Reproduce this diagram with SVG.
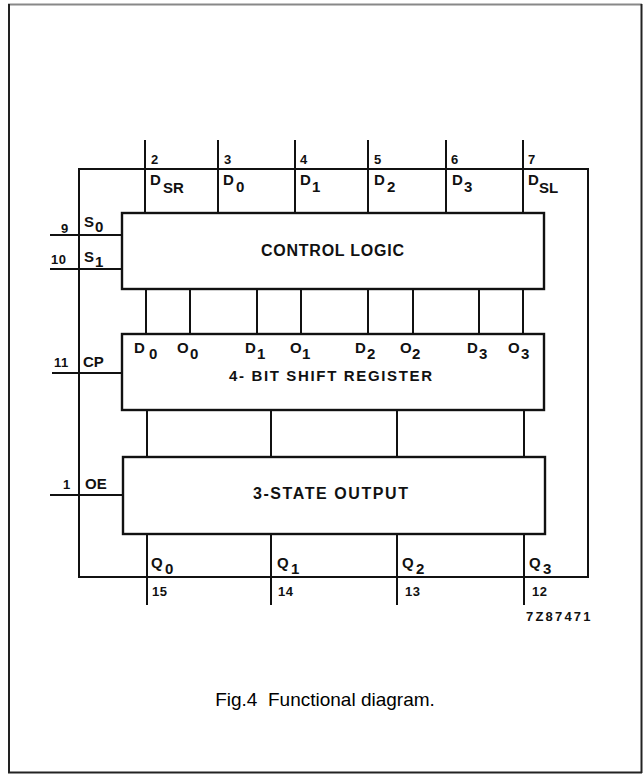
<svg xmlns="http://www.w3.org/2000/svg" width="643" height="774" viewBox="0 0 643 774">
<style>
.ln{stroke:#111;stroke-width:2;fill:none}
.bx{stroke:#111;stroke-width:2.4;fill:#fff}
.t{font-family:"Liberation Sans",Arial,sans-serif;font-weight:bold;fill:#111}
.pn{font-size:13px;letter-spacing:0.5px}
.lb{font-size:15px}
.big{font-size:16px}
.cap{font-family:"Liberation Sans",Arial,sans-serif;font-size:19px;fill:#000}
</style>
<rect width="643" height="774" fill="#fff"/>
<g id="frame" fill="none" stroke-width="2">
<line x1="8" y1="4.5" x2="642" y2="4.5" stroke="#888"/>
<line x1="9" y1="4" x2="9" y2="773" stroke="#222"/>
<line x1="641.5" y1="4" x2="641.5" y2="773" stroke="#222"/>
<line x1="8" y1="772.5" x2="642" y2="772.5" stroke="#222"/>
</g>
<g id="connectors">
<rect class="ln" x="79" y="169" width="509" height="408"/>
<line class="ln" x1="145" y1="140" x2="145" y2="213"/>
<line class="ln" x1="218" y1="140" x2="218" y2="213"/>
<line class="ln" x1="295" y1="140" x2="295" y2="213"/>
<line class="ln" x1="368" y1="140" x2="368" y2="213"/>
<line class="ln" x1="446" y1="140" x2="446" y2="213"/>
<line class="ln" x1="523" y1="140" x2="523" y2="213"/>
<line class="ln" x1="50" y1="235" x2="122" y2="235"/>
<line class="ln" x1="50" y1="269" x2="122" y2="269"/>
<line class="ln" x1="52" y1="373" x2="122" y2="373"/>
<line class="ln" x1="50" y1="495" x2="123" y2="495"/>
<line class="ln" x1="146" y1="289" x2="146" y2="334"/>
<line class="ln" x1="190" y1="289" x2="190" y2="334"/>
<line class="ln" x1="257" y1="289" x2="257" y2="334"/>
<line class="ln" x1="301" y1="289" x2="301" y2="334"/>
<line class="ln" x1="368" y1="289" x2="368" y2="334"/>
<line class="ln" x1="413" y1="289" x2="413" y2="334"/>
<line class="ln" x1="479" y1="289" x2="479" y2="334"/>
<line class="ln" x1="523" y1="289" x2="523" y2="334"/>
<line class="ln" x1="147" y1="410" x2="147" y2="457"/>
<line class="ln" x1="271" y1="410" x2="271" y2="457"/>
<line class="ln" x1="397" y1="410" x2="397" y2="457"/>
<line class="ln" x1="524" y1="410" x2="524" y2="457"/>
<line class="ln" x1="147" y1="534" x2="147" y2="605"/>
<line class="ln" x1="271" y1="534" x2="271" y2="605"/>
<line class="ln" x1="397" y1="534" x2="397" y2="605"/>
<line class="ln" x1="524" y1="534" x2="524" y2="605"/>
</g>
<g id="control-logic">
<rect class="bx" x="122" y="213" width="422" height="76"/>
<text class="t big" x="332.5" y="256" text-anchor="middle" textLength="143" lengthAdjust="spacing">CONTROL LOGIC</text>
</g>
<g id="shift-register">
<rect class="bx" x="122" y="334" width="422" height="76"/>
<text class="t" x="229" y="381" textLength="203" lengthAdjust="spacing" style="font-size:15px">4- BIT SHIFT REGISTER</text>
<text class="t lb" x="134" y="353">D</text><text class="t lb" x="149" y="359">0</text>
<text class="t lb" x="177" y="353">O</text><text class="t lb" x="190" y="359">0</text>
<text class="t lb" x="245" y="353">D</text><text class="t lb" x="257" y="359">1</text>
<text class="t lb" x="290" y="353">O</text><text class="t lb" x="302" y="359">1</text>
<text class="t lb" x="355" y="353">D</text><text class="t lb" x="367" y="359">2</text>
<text class="t lb" x="400" y="353">O</text><text class="t lb" x="412" y="359">2</text>
<text class="t lb" x="467" y="353">D</text><text class="t lb" x="479" y="359">3</text>
<text class="t lb" x="508" y="353">O</text><text class="t lb" x="521" y="359">3</text>
</g>
<g id="output">
<rect class="bx" x="123" y="457" width="422" height="77"/>
<text class="t big" x="253" y="499" textLength="155" lengthAdjust="spacing">3-STATE OUTPUT</text>
</g>
<g id="pins">
<text class="t pn" x="151" y="164">2</text>
<text class="t pn" x="224" y="164">3</text>
<text class="t pn" x="300" y="164">4</text>
<text class="t pn" x="374" y="164">5</text>
<text class="t pn" x="451" y="164">6</text>
<text class="t pn" x="528" y="164">7</text>
<text class="t lb" x="150" y="185">D</text><text class="t lb" x="163" y="193">SR</text>
<text class="t lb" x="223" y="185">D</text><text class="t lb" x="236" y="192">0</text>
<text class="t lb" x="300" y="185">D</text><text class="t lb" x="312" y="192">1</text>
<text class="t lb" x="374" y="185">D</text><text class="t lb" x="387" y="192">2</text>
<text class="t lb" x="452" y="185">D</text><text class="t lb" x="464" y="192">3</text>
<text class="t lb" x="528" y="185">D</text><text class="t lb" x="539" y="193">SL</text>
<text class="t pn" x="61" y="233">9</text>
<text class="t lb" x="84" y="227">S</text><text class="t lb" x="95" y="232">0</text>
<text class="t pn" x="51" y="264">10</text>
<text class="t lb" x="84" y="262">S</text><text class="t lb" x="95" y="267">1</text>
<text class="t pn" x="54" y="367">11</text>
<text class="t lb" x="83" y="367">CP</text>
<text class="t pn" x="63" y="489">1</text>
<text class="t lb" x="85" y="489">OE</text>
<text class="t lb" x="151" y="568">Q</text><text class="t lb" x="165" y="574">0</text>
<text class="t lb" x="277" y="568">Q</text><text class="t lb" x="291" y="574">1</text>
<text class="t lb" x="402" y="568">Q</text><text class="t lb" x="416" y="574">2</text>
<text class="t lb" x="529" y="568">Q</text><text class="t lb" x="543" y="574">3</text>
<text class="t pn" x="152" y="596">15</text>
<text class="t pn" x="278" y="596">14</text>
<text class="t pn" x="405" y="596">13</text>
<text class="t pn" x="532" y="596">12</text>
<text class="t pn" x="526" y="621" textLength="65" lengthAdjust="spacing">7Z87471</text>
</g>
<text class="cap" x="325" y="706" text-anchor="middle">Fig.4&#160; Functional diagram.</text>
</svg>
